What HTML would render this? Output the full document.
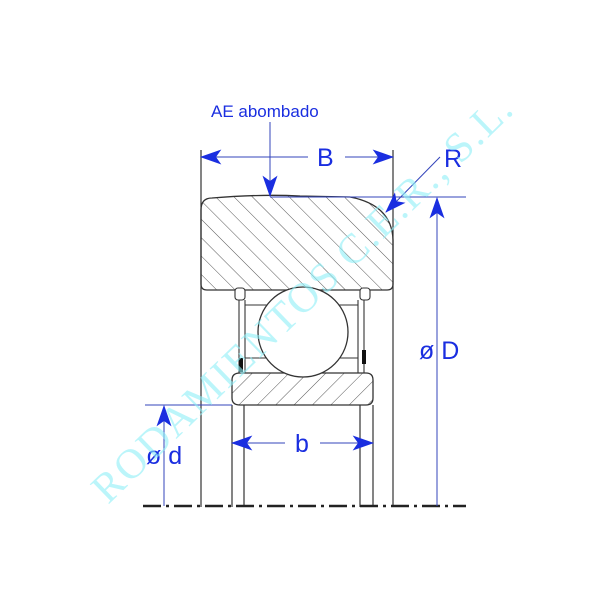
<!DOCTYPE html>
<html><head><style>body{margin:0;background:#fff}svg{display:block}</style></head><body>
<svg width="600" height="600" viewBox="0 0 600 600" xmlns="http://www.w3.org/2000/svg">
<defs>
<pattern id="h" patternUnits="userSpaceOnUse" width="13" height="13" patternTransform="rotate(-45)">
<line x1="0" y1="0" x2="0" y2="13" stroke="#444" stroke-width="0.9"/>
</pattern>
<pattern id="h2" patternUnits="userSpaceOnUse" width="13" height="13" patternTransform="rotate(45)">
<line x1="0" y1="0" x2="0" y2="13" stroke="#444" stroke-width="0.9"/>
</pattern>
<marker id="a" viewBox="0 0 20 14" refX="19" refY="7" markerWidth="22" markerHeight="15" markerUnits="userSpaceOnUse" orient="auto-start-reverse">
<path d="M0,0 L20,7 L0,14 L5,7 Z" fill="#1a2ee0"/>
</marker>
</defs>
<g stroke="#333" stroke-width="1.2" fill="none">
<line x1="201" y1="150" x2="201" y2="507"/>
<line x1="393" y1="150" x2="393" y2="507"/>
<line x1="232" y1="405" x2="232" y2="507"/>
<line x1="244" y1="405" x2="244" y2="507"/>
<line x1="360" y1="405" x2="360" y2="507"/>
<line x1="373" y1="405" x2="373" y2="507"/>
</g>
<line x1="143" y1="506" x2="466" y2="506" stroke="#222" stroke-width="2.5" stroke-dasharray="18,5,3,5"/>
<path d="M212,198 Q260,194 300,196 L350,197 Q392,205 393,240 L393,284 Q393,290 387,290 L207,290 Q201,290 201,284 L201,210 Q201,198 212,198 Z" fill="url(#h)" stroke="#333" stroke-width="1.3"/>
<path d="M240,373 L366,373 Q373,373 373,380 L373,398 Q373,405 366,405 L240,405 Q232,405 232,398 L232,380 Q232,373 240,373 Z" fill="url(#h2)" stroke="#333" stroke-width="1.3"/>
<g stroke="#333" stroke-width="1.1" fill="#fff">
<rect x="235" y="288" width="10" height="12" rx="3"/>
<rect x="360" y="288" width="10" height="12" rx="3"/>
<line x1="239" y1="300" x2="239" y2="373"/>
<line x1="245" y1="300" x2="245" y2="373"/>
<line x1="364" y1="300" x2="364" y2="373"/>
<line x1="358" y1="300" x2="358" y2="373"/>
<line x1="245" y1="305" x2="358" y2="305"/>
<line x1="245" y1="358" x2="358" y2="358"/>
</g>
<rect x="239" y="358" width="4" height="14" fill="#111"/>
<rect x="362" y="350" width="4" height="14" fill="#111"/>
<circle cx="303" cy="332" r="45" fill="#fff" stroke="#333" stroke-width="1.3"/>
<g stroke="#3344bb" stroke-width="1" fill="none">
<line x1="270" y1="197" x2="466" y2="197"/>
<line x1="145" y1="405" x2="232" y2="405"/>
<line x1="201" y1="157" x2="308" y2="157" marker-start="url(#a)"/>
<line x1="345" y1="157" x2="393" y2="157" marker-end="url(#a)"/>
<line x1="270" y1="122" x2="270" y2="196" marker-end="url(#a)"/>
<line x1="440" y1="157" x2="386" y2="212" marker-end="url(#a)"/>
<line x1="437" y1="506" x2="437" y2="198" marker-end="url(#a)"/>
<line x1="164" y1="506" x2="164" y2="406" marker-end="url(#a)"/>
<line x1="232" y1="443" x2="285" y2="443" marker-start="url(#a)"/>
<line x1="320" y1="443" x2="373" y2="443" marker-end="url(#a)"/>
</g>
<g font-family="Liberation Sans, sans-serif" fill="#1a2ee0">
<text x="211" y="117" font-size="17">AE abombado</text>
<text x="317" y="166" font-size="25">B</text>
<text x="444" y="167" font-size="25">R</text>
<text x="419" y="359" font-size="25">ø D</text>
<text x="146" y="464" font-size="25">ø d</text>
<text x="295" y="452" font-size="25">b</text>
</g>
<text x="0" y="0" transform="translate(108,505) rotate(-44)" font-family="Liberation Serif, serif" font-size="42" fill="#8ff0f8" opacity="0.6" letter-spacing="2">RODAMIENTOS C.E.R., S.L.</text>
</svg>
</body></html>
